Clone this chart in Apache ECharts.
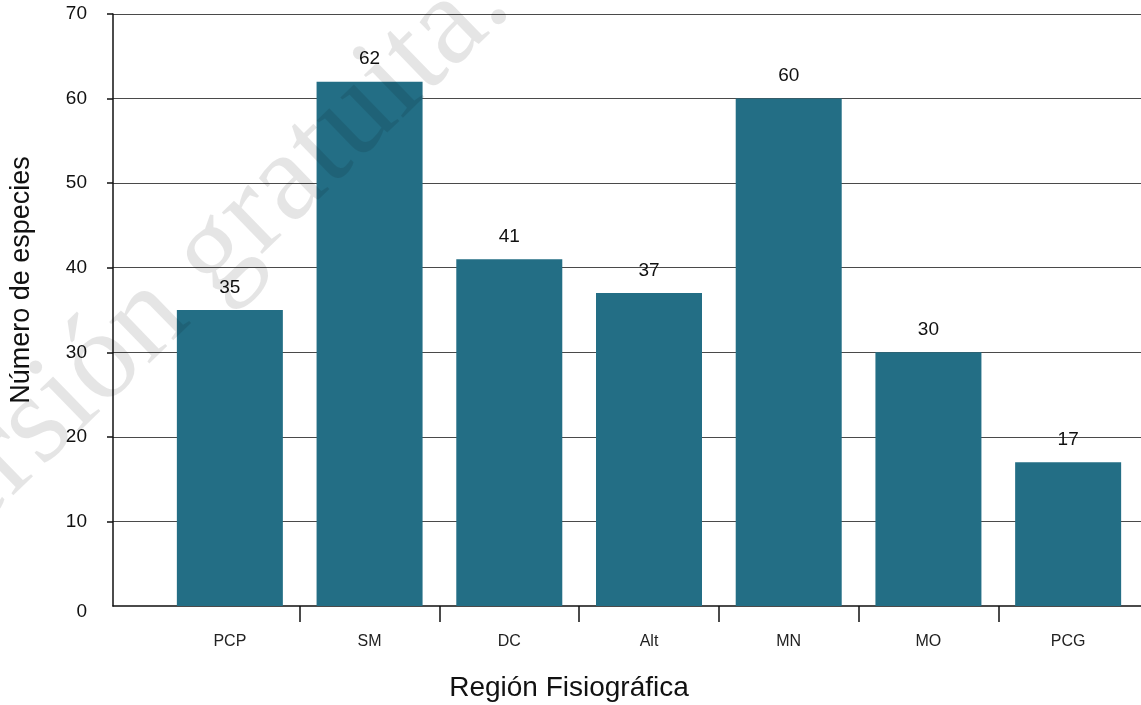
<!DOCTYPE html>
<html>
<head>
<meta charset="utf-8">
<style>
  html, body { margin: 0; padding: 0; background: #fff; }
  #chart { width: 1141px; height: 705px; }
</style>
<script src="https://cdn.jsdelivr.net/npm/echarts@6/dist/echarts.min.js"></script>
</head>
<body>
<div id="chart"></div>
<script>
// regiones fisiográficas y número de especies
const regions = ['PCP', 'SM', 'DC', 'Alt', 'MN', 'MO', 'PCG'];
const species = [35, 62, 41, 37, 60, 30, 17];
const yTicks = [0, 10, 20, 30, 40, 50, 60, 70];
const xTitle = 'Región Fisiográfica';
const yTitle = 'Número de especies';
const watermark = 'Versión gratuita.';

const font = "'Liberation Sans', Arial, sans-serif";
const barColor = '#236e85';

const chart = echarts.init(document.getElementById('chart'), null, { renderer: 'canvas' });

chart.setOption({
  animation: false,
  backgroundColor: '#fff',
  textStyle: { fontFamily: font },
  grid: [
    // frame with y axis and gridlines
    { left: 113, right: 0, top: 14, bottom: 99 },
    // bars
    { left: 160, right: 3, top: 14, bottom: 99 },
  ],
  xAxis: [
    {
      gridIndex: 0,
      type: 'value',
      min: 0,
      max: 1,
      axisLine: { show: true, lineStyle: { color: '#111', width: 1.5 } },
      axisTick: { show: false },
      axisLabel: { show: false },
      splitLine: { show: false },
    },
    {
      gridIndex: 1,
      type: 'category',
      data: regions,
      axisLine: { show: false },
      axisTick: { show: false },
      axisLabel: { fontSize: 16, color: '#222', margin: 28 },
    },
    {
      // tick marks between the categories
      gridIndex: 1,
      type: 'value',
      min: 0,
      max: regions.length,
      position: 'bottom',
      axisLine: { show: false },
      axisTick: {
        show: true,
        length: 16,
        customValues: regions.slice(1).map((_, i) => i + 1),
        lineStyle: { color: '#111', width: 1.5 },
      },
      axisLabel: { show: false },
      splitLine: { show: false },
    },
  ],
  yAxis: [
    {
      gridIndex: 0,
      type: 'value',
      min: 0,
      max: 70,
      interval: 10,
      axisLine: { show: true, lineStyle: { color: '#111', width: 1.5 } },
      axisTick: {
        show: true,
        length: 6,
        customValues: yTicks.slice(1),
        lineStyle: { color: '#111', width: 1.5 },
      },
      axisLabel: {
        fontSize: 19,
        color: '#111',
        margin: 26,
        customValues: yTicks,
        formatter: (v) => (v === 0 ? '{z|0}' : String(v)),
        rich: { z: { fontSize: 19, color: '#111', padding: [12, 0, 0, 0] } },
      },
      splitLine: { show: true, lineStyle: { color: '#4a4a4a', width: 1 } },
    },
    {
      gridIndex: 1,
      type: 'value',
      min: 0,
      max: 70,
      show: false,
    },
  ],
  series: [
    {
      type: 'bar',
      xAxisIndex: 1,
      yAxisIndex: 1,
      data: species,
      barWidth: 106,
      itemStyle: { color: barColor },
      label: {
        show: true,
        position: 'top',
        distance: 13,
        fontSize: 19,
        color: '#111',
      },
    },
  ],
  graphic: [
    {
      type: 'text',
      x: 569,
      y: 688,
      style: {
        text: xTitle,
        fontSize: 28,
        fontFamily: font,
        fill: '#111',
        align: 'center',
        verticalAlign: 'middle',
      },
    },
    {
      type: 'text',
      x: 22,
      y: 280,
      rotation: Math.PI / 2,
      style: {
        text: yTitle,
        fontSize: 27,
        fontFamily: font,
        fill: '#111',
        align: 'center',
        verticalAlign: 'middle',
      },
    },
    {
      // marca de agua
      type: 'text',
      x: 192,
      y: 276,
      z: 100,
      rotation: 0.77,
      silent: true,
      style: {
        text: watermark,
        fontSize: 126,
        fontFamily: "'Liberation Serif', 'DejaVu Serif', serif",
        fill: 'rgba(0,0,0,0.1)',
        align: 'center',
        verticalAlign: 'middle',
      },
    },
  ],
});
</script>
</body>
</html>
